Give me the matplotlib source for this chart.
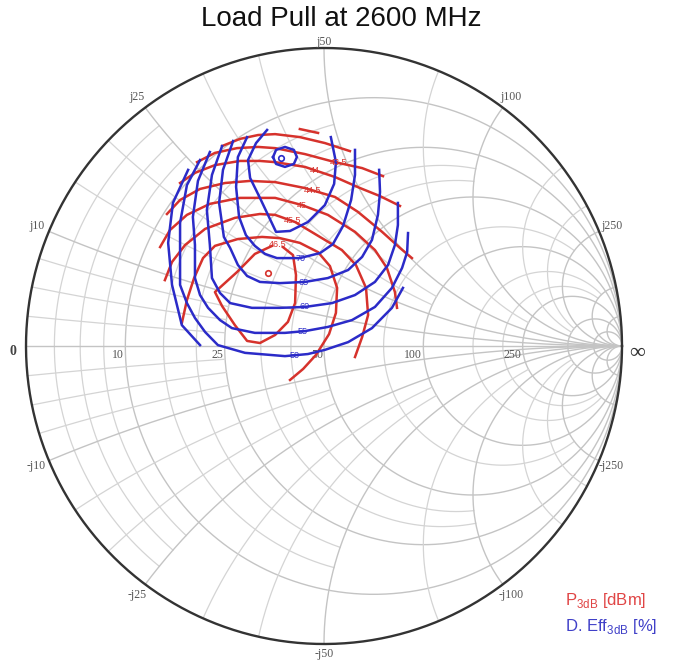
import numpy as np
import matplotlib.pyplot as plt

plt.rcParams['font.family'] = ['Liberation Sans', 'DejaVu Sans']
plt.rcParams['mathtext.fontset'] = 'custom'
plt.rcParams['mathtext.rm'] = 'Liberation Sans'

title = 'Load Pull at 2600 MHz'
z0 = 50.0

# grid labels (ohm)
r_labels = [10, 25, 50, 100, 250]
x_labels = [10, 25, 50, 100, 250]

# P3dB contours, reflection coefficient (real / imag)
p3db_levels = ['46.5', '46', '45.5', '45', '44.5', '44', '43.5', '43', '42.5']
p3db_re = [
    [-0.138, -0.104, -0.094, -0.097, -0.121, -0.164, -0.215, -0.258, -0.299, -0.342, -0.366, -0.292, -0.232, -0.174],
    [-0.477, -0.460, -0.436, -0.406, -0.366, -0.289, -0.208, -0.148, -0.081, -0.020, 0.020, 0.044, 0.040, 0.017, -0.027, -0.070, -0.114],
    [-0.534, -0.510, -0.466, -0.399, -0.299, -0.215, -0.164, -0.097, -0.007, 0.060, 0.107, 0.141, 0.148, 0.128, 0.104],
    [-0.550, -0.517, -0.460, -0.383, -0.282, -0.164, -0.074, 0.013, 0.104, 0.171, 0.211, 0.238, 0.245],
    [-0.527, -0.483, -0.416, -0.332, -0.248, -0.164, -0.064, 0.037, 0.114, 0.195, 0.255, 0.295],
    [-0.483, -0.433, -0.366, -0.282, -0.215, -0.164, -0.064, 0.037, 0.121, 0.188, 0.255],
    [-0.426, -0.366, -0.292, -0.221, -0.164, -0.064, 0.037, 0.128, 0.198],
    [-0.342, -0.282, -0.221, -0.164, -0.081, 0.003, 0.087],
    [-0.081, -0.020],
]
p3db_im = [
    [0.332, 0.305, 0.238, 0.144, 0.081, 0.037, 0.010, 0.017, 0.070, 0.134, 0.181, 0.248, 0.309, 0.336],
    [0.077, 0.154, 0.228, 0.295, 0.336, 0.359, 0.366, 0.362, 0.346, 0.315, 0.268, 0.195, 0.111, 0.040, -0.030, -0.077, -0.114],
    [0.221, 0.282, 0.339, 0.393, 0.430, 0.443, 0.440, 0.416, 0.362, 0.322, 0.272, 0.195, 0.104, 0.030, -0.037],
    [0.332, 0.389, 0.440, 0.477, 0.497, 0.497, 0.473, 0.440, 0.383, 0.322, 0.262, 0.181, 0.128],
    [0.443, 0.490, 0.527, 0.547, 0.554, 0.550, 0.530, 0.500, 0.450, 0.383, 0.329, 0.295],
    [0.547, 0.581, 0.607, 0.621, 0.621, 0.617, 0.601, 0.567, 0.530, 0.503, 0.470],
    [0.617, 0.648, 0.664, 0.668, 0.664, 0.644, 0.617, 0.597, 0.570],
    [0.671, 0.695, 0.708, 0.711, 0.701, 0.681, 0.654],
    [0.728, 0.715],
]
p3db_max = (-0.188, 0.245)

# drain efficiency contours
eff_levels = ['75', '70', '65', '60', '55', '50', '45']
eff_re = [
    [-0.191, -0.228, -0.255, -0.248, -0.215, -0.188, -0.161, -0.114, -0.054, 0.003, 0.034, 0.040, 0.023],
    [-0.258, -0.289, -0.295, -0.285, -0.262, -0.232, -0.198, -0.158, -0.081, -0.013, 0.030, 0.064, 0.091, 0.104, 0.104],
    [-0.305, -0.339, -0.352, -0.336, -0.315, -0.289, -0.258, -0.215, -0.148, -0.064, 0.013, 0.081, 0.128, 0.161, 0.181, 0.188, 0.185],
    [-0.342, -0.376, -0.393, -0.383, -0.376, -0.349, -0.315, -0.242, -0.148, -0.064, 0.027, 0.104, 0.171, 0.215, 0.238, 0.248, 0.248],
    [-0.383, -0.423, -0.440, -0.433, -0.433, -0.416, -0.389, -0.349, -0.309, -0.232, -0.131, -0.064, 0.013, 0.094, 0.171, 0.228, 0.262, 0.279, 0.282],
    [-0.416, -0.460, -0.483, -0.483, -0.460, -0.433, -0.399, -0.356, -0.265, -0.131, -0.054, 0.003, 0.081, 0.161, 0.228, 0.265],
    [-0.456, -0.507, -0.523, -0.510, -0.477, -0.416],
]
eff_im = [
    [0.725, 0.681, 0.624, 0.564, 0.497, 0.440, 0.383, 0.386, 0.416, 0.473, 0.544, 0.617, 0.701],
    [0.701, 0.634, 0.534, 0.433, 0.372, 0.336, 0.309, 0.295, 0.295, 0.312, 0.342, 0.403, 0.490, 0.574, 0.658],
    [0.688, 0.591, 0.480, 0.366, 0.329, 0.272, 0.235, 0.215, 0.211, 0.215, 0.228, 0.255, 0.299, 0.356, 0.440, 0.517, 0.591],
    [0.671, 0.574, 0.456, 0.339, 0.228, 0.178, 0.144, 0.128, 0.128, 0.131, 0.144, 0.171, 0.215, 0.272, 0.339, 0.406, 0.480],
    [0.651, 0.554, 0.433, 0.339, 0.228, 0.171, 0.128, 0.087, 0.060, 0.044, 0.044, 0.050, 0.064, 0.087, 0.131, 0.195, 0.262, 0.315, 0.379],
    [0.624, 0.540, 0.413, 0.205, 0.144, 0.094, 0.047, 0.003, -0.023, -0.034, -0.027, -0.013, 0.013, 0.060, 0.128, 0.195],
    [0.591, 0.480, 0.346, 0.205, 0.070, 0.003],
]
eff_peak_re = [-0.171, -0.161, -0.131, -0.101, -0.091, -0.101, -0.131, -0.161, -0.171]
eff_peak_im = [0.634, 0.658, 0.668, 0.658, 0.634, 0.611, 0.601, 0.611, 0.634]
eff_max = (-0.144, 0.631)

RED = '#d6322c'
BLUE = '#2b2bc8'
GRID = '#d4d4d4'
GRID_MAJ = '#c4c4c4'


def gamma(z):
    return (z - 1) / (z + 1)


def r_circle(ax, r, xmax, **kw):
    t = np.linspace(-np.arctan(xmax), np.arctan(xmax), 600)
    g = gamma(r + 1j * np.tan(t))
    ax.plot(g.real, g.imag, **kw)


def x_arc(ax, x, rmax, **kw):
    t = np.linspace(0, np.arctan(rmax), 600)
    for s in (1, -1):
        g = gamma(np.tan(t) + 1j * s * x)
        ax.plot(g.real, g.imag, **kw)


def crossing(re, im, x0, top=True):
    hits = []
    for i in range(len(re) - 1):
        a, b = re[i], re[i + 1]
        if a != b and (a - x0) * (b - x0) <= 0:
            t = (x0 - a) / (b - a)
            hits.append(im[i] + t * (im[i + 1] - im[i]))
    return max(hits) if top else min(hits)


fig = plt.figure(figsize=(6.84, 6.65), dpi=100)
ax = fig.add_axes([0, 0, 1, 1])
ax.set_xlim(-324 / 298, 360 / 298)
ax.set_ylim(-319 / 298, 346 / 298)
ax.axis('off')

# ---- smith chart grid ----
gkw = dict(color=GRID, lw=0.9, zorder=1)
for r, xm in [(0.05, 0.5), (0.1, 0.5), (0.15, 0.5), (0.3, 1), (0.4, 1),
              (0.65, 2), (0.8, 2), (1.5, 5), (3, 10), (4, 10)]:
    r_circle(ax, r, xm, **gkw)
for r in [0.2, 0.5, 1, 2, 5, 10, 20]:
    r_circle(ax, r, np.inf, color=GRID_MAJ, lw=1.0, zorder=1)
for x, rm in [(0.05, 0.5), (0.1, 0.5), (0.15, 0.5), (0.3, 1), (0.4, 1),
              (0.65, 2), (0.8, 2), (1.5, 5), (3, 10), (4, 10)]:
    x_arc(ax, x, rm, **gkw)
for x in [0.2, 0.5, 1, 2, 5, 10, 20]:
    x_arc(ax, x, np.inf, color=GRID_MAJ, lw=1.0, zorder=1)
ax.plot([-1, 1], [0, 0], color=GRID_MAJ, lw=1.0, zorder=1)
th = np.linspace(0, 2 * np.pi, 800)
ax.plot(np.cos(th), np.sin(th), color='#333333', lw=1.7, zorder=2)

serif = ['Liberation Serif', 'DejaVu Serif']
for R in r_labels:
    g = gamma(R / z0)
    ax.text(g.real - 0.004, -0.03, str(R), ha='right', va='center',
            fontsize=8.5, color='#555555', family=serif)
for X in x_labels:
    ang = np.pi - 2 * np.arctan(X / z0)
    rr = 1.045
    yy = 1.02 if X == 50 else rr * np.sin(ang)
    ax.text(rr * np.cos(ang), yy, 'j%d' % X,
            ha='center', va='center', fontsize=8.5, color='#555555', family=serif)
    yy = 1.035 if X == 50 else rr * np.sin(ang)
    ax.text(rr * np.cos(ang), -yy, '-j%d' % X, ha='center', va='center',
            fontsize=8.5, color='#555555', family=serif)
ax.text(-1.045, -0.02, '0', ha='center', va='center', fontsize=10,
        fontweight='bold', color='#444444', family=serif)
ax.text(1.05, -0.025, '\u221e', ha='center', va='center', fontsize=16,
        color='#333333', family=serif)

# ---- load pull contours ----
for re, im in zip(p3db_re, p3db_im):
    ax.plot(re, im, color=RED, lw=1.8, solid_joinstyle='round', zorder=3)
for re, im in zip(eff_re, eff_im):
    ax.plot(re, im, color=BLUE, lw=1.8, solid_joinstyle='round', zorder=4)
ax.plot(eff_peak_re, eff_peak_im, color=BLUE, lw=1.8, zorder=4)
ax.plot(*p3db_max, 'o', mfc='none', mec=RED, ms=4, mew=1.2, zorder=5)
ax.plot(*eff_max, 'o', mfc='none', mec=BLUE, ms=4, mew=1.2, zorder=5)

# contour labels
lab = dict(fontsize=6.5, ha='center', va='center', zorder=6)
ax.text((p3db_re[0][0] + p3db_re[0][-1]) / 2, (p3db_im[0][0] + p3db_im[0][-1]) / 2 + 0.005,
        p3db_levels[0], color=RED, **lab)
for k, x0 in zip(range(2, 7), [-0.107, -0.074, -0.04, -0.03, 0.05]):
    ax.text(x0, crossing(p3db_re[k], p3db_im[k], x0, top=True), p3db_levels[k], color=RED, **lab)
for k, x0 in zip(range(1, 6), [-0.08, -0.07, -0.064, -0.07, -0.10]):
    ax.text(x0, crossing(eff_re[k], eff_im[k], x0, top=False), eff_levels[k], color=BLUE, **lab)

fig.text(341 / 684, 1 - 19 / 665, title, ha='center', va='center', fontsize=20, color='#111111')
fig.text(565 / 684, 1 - 600 / 665, r'P$_{\mathrm{3dB}}$ [dBm]', ha='left', va='center',
         fontsize=12, color='#e04545')
fig.text(565 / 684, 1 - 627 / 665, r'D. Eff$_{\mathrm{3dB}}$ [%]', ha='left', va='center',
         fontsize=12, color='#4040c8')

fig.savefig('out.png', dpi=100)
